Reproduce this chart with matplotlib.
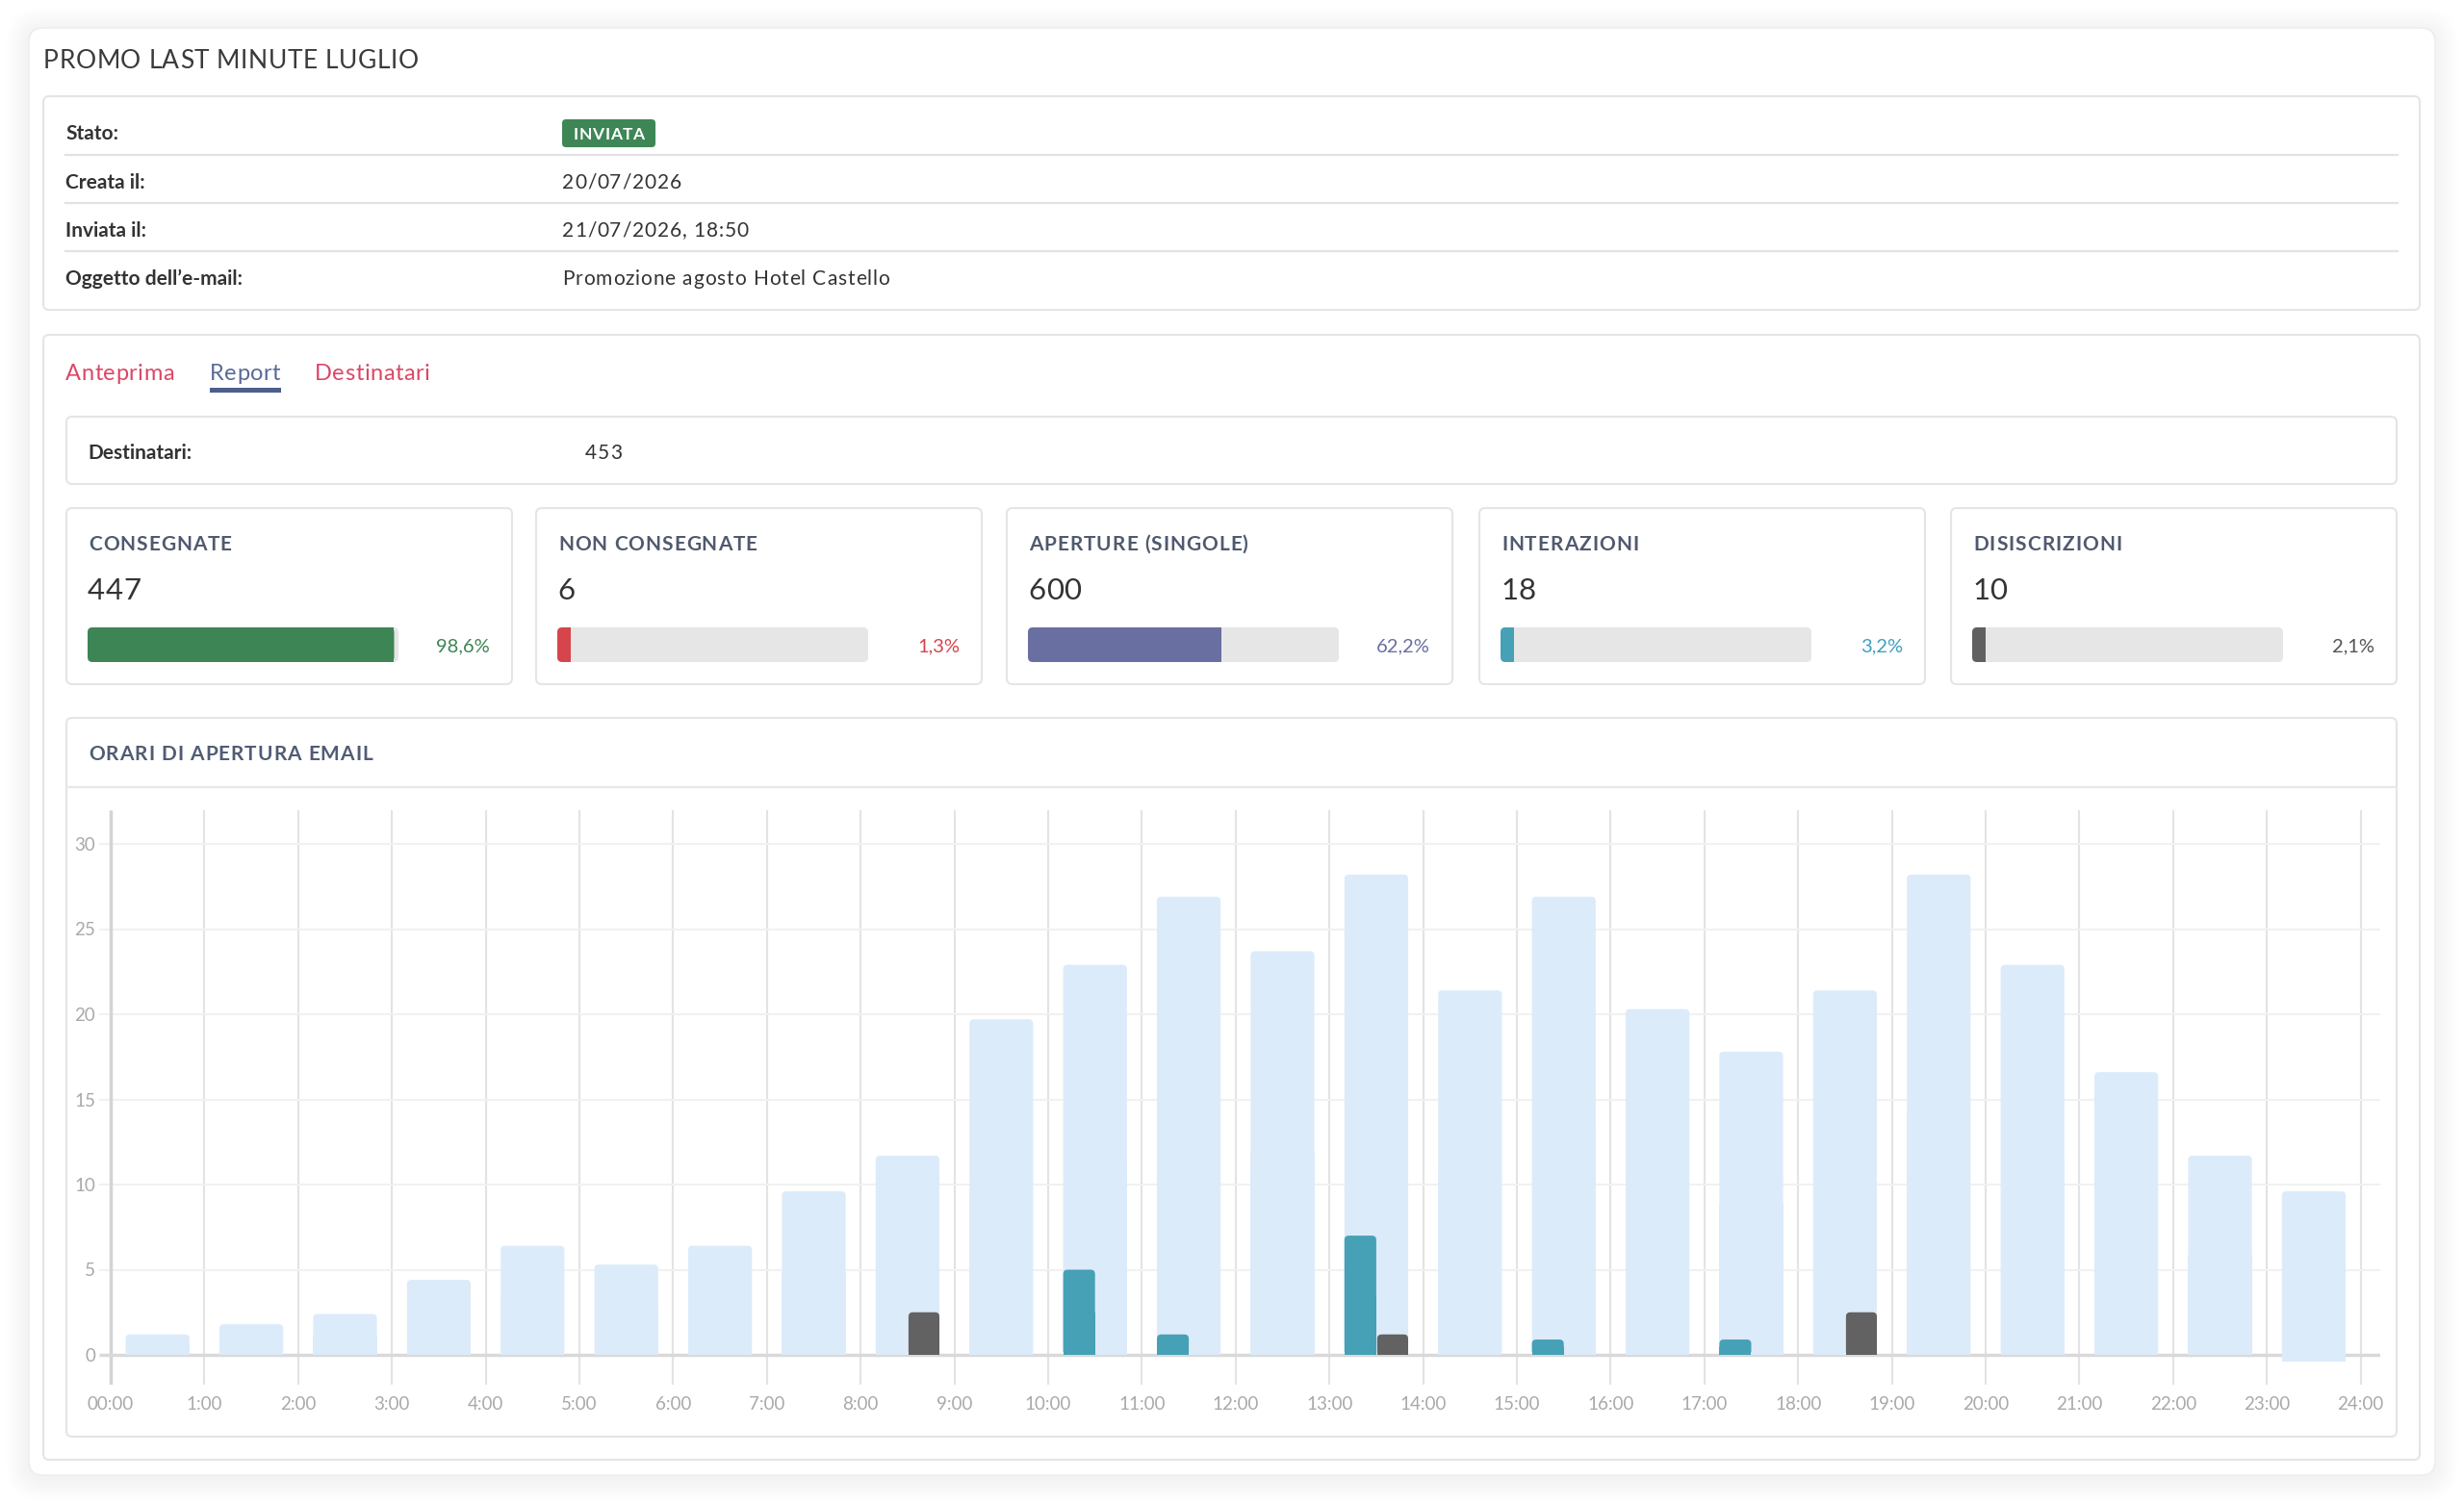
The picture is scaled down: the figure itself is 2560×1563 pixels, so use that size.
import matplotlib
matplotlib.use('Agg')
import matplotlib.pyplot as plt
from matplotlib.patches import FancyBboxPatch, Rectangle
from matplotlib.font_manager import FontProperties

plt.rcParams['font.family'] = ['Lato', 'DejaVu Sans']

# --- data ---
title = 'PROMO LAST MINUTE LUGLIO'
info_labels = ['Stato:', 'Creata il:', 'Inviata il:', 'Oggetto dell\u2019e-mail:']
info_values = ['INVIATA', '20/07/2026', '21/07/2026, 18:50', 'Promozione agosto Hotel Castello']
tabs = ['Anteprima', 'Report', 'Destinatari']
recipients = 453

card_titles = ['CONSEGNATE', 'NON CONSEGNATE', 'APERTURE (SINGOLE)', 'INTERAZIONI', 'DISISCRIZIONI']
card_values = [447, 6, 600, 18, 10]
card_pcts = [98.6, 1.3, 62.2, 3.2, 2.1]
card_colors = ['#3e8556', '#d5454b', '#6a6fa2', '#46a1b6', '#606060']
card_text_colors = ['#3e8556', '#d5454b', '#6a6fa2', '#3f9fbf', '#555555']

chart_title = 'ORARI DI APERTURA EMAIL'
hours = list(range(24))
hour_labels = ['00:00', '1:00', '2:00', '3:00', '4:00', '5:00', '6:00', '7:00', '8:00',
               '9:00', '10:00', '11:00', '12:00', '13:00', '14:00', '15:00', '16:00',
               '17:00', '18:00', '19:00', '20:00', '21:00', '22:00', '23:00', '24:00']
opens = [1.2, 1.8, 2.4, 4.4, 6.4, 5.3, 6.4, 9.6, 11.7, 19.7, 22.9, 26.9,
         23.7, 28.2, 21.4, 26.9, 20.3, 17.8, 21.4, 28.2, 22.9, 16.6, 11.7, 9.6]
opens_bottom = [0, 0, 0, 0, 0, 0, 0, 0, 0, 0, 0, 0,
                0, 0, 0, 0, 0, 0, 0, 0, 0, 0, 0, -0.4]
interactions = [0, 0, 0, 0, 0, 0, 0, 0, 0, 0, 5.0, 1.2,
                0, 7.0, 0, 0.9, 0, 0.9, 0, 0, 0, 0, 0, 0]
unsubscribes = [0, 0, 0, 0, 0, 0, 0, 0, 2.5, 0, 0, 0,
                0, 1.2, 0, 0, 0, 0, 2.5, 0, 0, 0, 0, 0]
y_ticks = [0, 5, 10, 15, 20, 25, 30]

W, H = 2560, 1563
fig = plt.figure(figsize=(W / 100, H / 100), dpi=100)
fig.patch.set_facecolor('white')
bg = fig.add_axes([0, 0, 1, 1])
bg.set_xlim(0, W)
bg.set_ylim(H, 0)
bg.axis('off')
renderer = fig.canvas.get_renderer()


def box(x0, y0, x1, y1, fc='white', ec='#e5e5e5', lw=1.5, r=6, z=1):
    bg.add_patch(FancyBboxPatch((x0, y0), x1 - x0, y1 - y0,
                                boxstyle=f'round,pad=0,rounding_size={r}',
                                fc=fc, ec=ec, lw=lw, zorder=z))


def spaced(x, y, s, spacing, size, weight='normal', color='#333', **kw):
    # text with letter spacing (css-like), drawn char by char
    prop = FontProperties(family='Lato', size=size, weight=weight)
    for i, ch in enumerate(s):
        w = 0
        if i:
            w = renderer.get_text_width_height_descent(s[:i], prop, ismath=False)[0]
        bg.text(x + w + i * spacing, y, ch, fontsize=size, weight=weight,
                color=color, va='baseline', ha='left', **kw)


# main card with soft shadow
for k in range(12):
    p = 2 + k * 2
    box(30 - p, 29 - p + 3, 2530 + p, 1533 + p + 3, fc=(0, 0, 0, 0.005), ec='none', lw=0, r=15 + p, z=0)
box(30, 29, 2530, 1533, fc='white', ec='#ececec', lw=1, r=15, z=0.5)

spaced(45, 71, title, 0.6, 19, color='#3a3a3a')

# info card
box(45, 100, 2514, 322)
row_base = [145, 196, 246, 296]
for i in range(4):
    bg.text(68, row_base[i], info_labels[i], fontsize=15, weight='bold', color='#333', va='baseline')
    if i:
        spaced(584, row_base[i], info_values[i], 0.9, 15, color='#333')
for yy in [161, 211, 261]:
    bg.plot([68, 2491], [yy, yy], color='#e2e2e2', lw=1.6, zorder=2)
box(584, 124, 681, 153, fc='#3e8656', ec='none', lw=0, r=4, z=2)
spaced(596, 145, info_values[0], 0.5, 12.5, weight='bold', color='white', zorder=3)

# tabs card
box(45, 348, 2514, 1517)
tab_x = [68, 218, 327]
tab_c = ['#dc4766', '#5a6a96', '#dc4766']
for i in range(3):
    spaced(tab_x[i], 395, tabs[i], 0.5, 17, color=tab_c[i])
bg.add_patch(Rectangle((218, 403), 74, 4.5, color='#4d5d8c', lw=0, zorder=2))

box(69, 433, 2490, 503)
bg.text(91, 477, 'Destinatari:', fontsize=15, weight='bold', color='#333', va='baseline')
spaced(608, 477, str(recipients), 0.9, 15, color='#333')

# stat cards
card_left = [69, 557, 1046, 1537, 2027]
for i in range(5):
    x0 = card_left[i]
    box(x0, 528, x0 + 463, 711)
    spaced(x0 + 23, 572, card_titles[i], 1.0, 15, weight='bold', color='#4f5a6f')
    spaced(x0 + 22, 623, str(card_values[i]), 0.5, 22.5, color='#333')
    bx, bw = x0 + 22, 323
    box(bx, 652, bx + bw, 688, fc='#e6e6e6', ec='none', lw=0, r=5, z=2)
    fw = max(bw * card_pcts[i] / 100, 14)
    box(bx, 652, bx + fw, 688, fc=card_colors[i], ec='none', lw=0, r=5, z=3)
    bg.add_patch(Rectangle((bx + fw / 2, 652), fw / 2, 36, fc=card_colors[i], lw=0, zorder=3))
    pct = f'{card_pcts[i]:.1f}%'.replace('.', ',')
    bg.text(x0 + 440, 677, pct, fontsize=14.5, color=card_text_colors[i], ha='right', va='baseline')

# chart card
box(69, 746, 2490, 1493)
bg.plot([70, 2489], [818, 818], color='#e8e8e8', lw=1.6, zorder=2)
spaced(92, 790, chart_title, 1.0, 15, weight='bold', color='#505c74')

# chart axes, placed in pixel space
x0_px, px_per_h = 115, 97.4
y0_px, px_per_v = 1408, 17.7
xlim = (-0.12, 24.21)
ylim = (-1.75, 32.0)
left = x0_px + xlim[0] * px_per_h
right = x0_px + xlim[1] * px_per_h
top = y0_px - ylim[1] * px_per_v
bottom = y0_px - ylim[0] * px_per_v
ax = fig.add_axes([left / W, (H - bottom) / H, (right - left) / W, (bottom - top) / H])
ax.set_facecolor('none')
ax.set_xlim(*xlim)
ax.set_ylim(*ylim)
for s in ax.spines.values():
    s.set_visible(False)

ax.vlines(range(25), ylim[0], ylim[1], colors='#e3e3e3', lw=1.5, zorder=0)
ax.vlines([0], ylim[0], ylim[1], colors='#d4d4d4', lw=2.5, zorder=0.2)
ax.hlines(y_ticks[1:], xlim[0], xlim[1], colors='#f1f1f1', lw=1.5, zorder=0)
ax.hlines([0], xlim[0], xlim[1], colors='#d9d9d9', lw=2.5, zorder=0.5)

heights = [opens[i] - opens_bottom[i] for i in hours]
b1 = ax.bar([h + 0.5 for h in hours], heights, bottom=opens_bottom, width=0.68,
            color='#dcebfa', zorder=1)
b2 = ax.bar([h + 0.33 for h in hours], interactions, width=0.34, color='#46a1b6', zorder=2)
b3 = ax.bar([h + 0.675 for h in hours], unsubscribes, width=0.33, color='#626262', zorder=2)

# round the top corners of the bars (radius ~4px)
aspect = px_per_h / px_per_v
rad = 4.5 / px_per_h
for cont in (b1, b2, b3):
    for rect in cont.patches:
        x, y = rect.get_x(), rect.get_y()
        w, h = rect.get_width(), rect.get_height()
        if h <= 0:
            continue
        fc = rect.get_facecolor()
        z = rect.get_zorder()
        rect.set_visible(False)
        ax.add_patch(FancyBboxPatch((x, y), w, h, boxstyle=f'round,pad=0,rounding_size={rad}',
                                    mutation_aspect=aspect, fc=fc, ec='none', lw=0, zorder=z))
        ax.add_patch(Rectangle((x, y), w, h / 2, fc=fc, lw=0, zorder=z))

ax.set_xticks(range(25))
ax.set_xticklabels(hour_labels)
ax.set_yticks(y_ticks)
ax.tick_params(axis='both', length=0, colors='#a9a9a9', labelsize=13.5)
ax.tick_params(axis='x', pad=9)
ax.tick_params(axis='y', pad=3)

fig.savefig('out.png', dpi=100, facecolor='white')
